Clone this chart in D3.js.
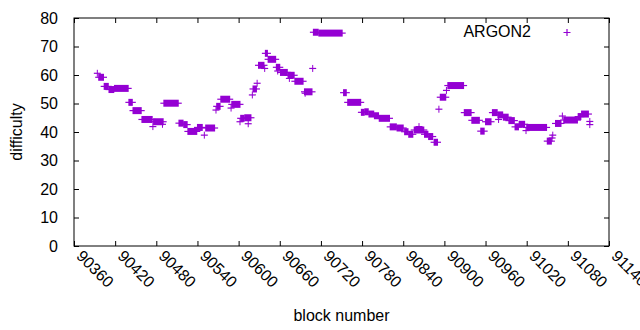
<!DOCTYPE html>
<html>
<head>
<meta charset="utf-8">
<script src="https://cdn.jsdelivr.net/npm/d3@7"></script>
<style>
  body { margin: 0; background: #fff; }
  text { font-family: "Liberation Sans", Arial, sans-serif; fill: #000; }
</style>
</head>
<body>
<svg id="graph"></svg>
<script>
// runs of blocks that share the same difficulty (start block, end block, value)
const blockStart = [
  90394, 90396, 90404, 90411, 90419, 90440, 90446, 90459, 90475, 90476,
  90489, 90491, 90513, 90520, 90526, 90540, 90550, 90552, 90567, 90568,
  90574, 90589, 90590, 90602, 90603, 90609, 90614, 90620, 90621, 90627,
  90629, 90638, 90639, 90643, 90655, 90657, 90661, 90672, 90674, 90682,
  90696, 90697, 90708, 90709, 90717, 90753, 90759, 90779, 90784, 90790,
  90798, 90805, 90821, 90831, 90842, 90848, 90856, 90863, 90871, 90877,
  90885, 90892, 90894, 90903, 90905, 90929, 90940, 90953, 90960, 90970,
  90978, 90979, 90986, 90994, 91003, 91009, 91019, 91020, 91050, 91057,
  91058, 91062, 91072, 91074, 91095, 91100, 91112, 91112
];
const blockEnd = [
  90394, 90403, 90410, 90418, 90439, 90445, 90458, 90474, 90475, 90490,
  90489, 90512, 90519, 90525, 90539, 90547, 90550, 90565, 90567, 90573,
  90587, 90589, 90602, 90602, 90608, 90618, 90614, 90620, 90626, 90627,
  90637, 90638, 90642, 90654, 90660, 90657, 90671, 90681, 90674, 90694,
  90707, 90697, 90708, 90716, 90751, 90757, 90778, 90783, 90789, 90797,
  90804, 90820, 90830, 90840, 90847, 90854, 90870, 90863, 90876, 90883,
  90890, 90892, 90902, 90903, 90928, 90939, 90951, 90958, 90968, 90977,
  90985, 90979, 90993, 91002, 91008, 91017, 91019, 91049, 91056, 91057,
  91058, 91070, 91072, 91094, 91099, 91110, 91112, 91112
];
const difficulty = [
  60.6, 59.2, 56.0, 54.9, 55.3, 50.4, 47.5, 44.4, 41.9, 43.6,
  42.7, 50.1, 43.1, 42.6, 40.2, 41.6, 38.9, 41.4, 47.7, 49.0,
  51.5, 48.4, 49.7, 43.6, 44.8, 45.0, 42.9, 53.0, 55.1, 57.1,
  63.4, 62.3, 67.6, 65.5, 62.7, 61.4, 60.9, 59.9, 58.8, 57.8,
  54.1, 53.6, 62.3, 75.0, 74.7, 53.8, 50.4, 46.9, 47.1, 46.3,
  45.7, 44.8, 41.8, 41.4, 40.1, 39.2, 40.7, 41.9, 39.2, 38.4,
  36.4, 48.0, 52.2, 54.6, 56.3, 46.8, 44.1, 40.3, 43.6, 46.8,
  46.0, 44.4, 45.2, 44.0, 41.8, 42.7, 40.5, 41.6, 36.8, 37.9,
  38.9, 43.0, 45.6, 44.2, 45.4, 46.3, 43.7, 42.6
];

const xTicks = d3.range(90360, 91141, 60);
const yTicks = d3.range(0, 81, 10);
const seriesName = 'ARGON2';
const color = '#9400d3';

const W = 640;
const H = 330;
const margin = { top: 18, right: 31, bottom: 84, left: 74 };
const width = W - margin.left - margin.right;
const height = H - margin.top - margin.bottom;
const arm = 3.5;
const fontSize = '16px';

const svg = d3.select('#graph')
    .attr('width', W)
    .attr('height', H);

const g = svg.append('g')
    .attr('transform', `translate(${margin.left},${margin.top})`);

const x = d3.scaleLinear().domain([90360, 91140]).range([0, width]);
const y = d3.scaleLinear().domain([0, 80]).range([height, 0]);

// axes (ticks point inward, mirrored on top / right)
const xAxis = g.append('g')
    .attr('transform', `translate(0,${height})`)
    .call(d3.axisBottom(x).tickValues(xTicks).tickSize(-5).tickSizeOuter(0)
      .tickFormat(d3.format('d')));
xAxis.selectAll('text')
    .attr('text-anchor', 'start')
    .attr('x', 0)
    .attr('y', 0)
    .attr('dy', 0)
    .attr('transform', 'translate(1,11) rotate(45)');

g.append('g')
    .call(d3.axisTop(x).tickValues(xTicks).tickSize(-5).tickSizeOuter(0).tickFormat(''));

g.append('g')
    .call(d3.axisLeft(y).tickValues(yTicks).tickSize(-5).tickSizeOuter(0).tickPadding(16));

g.append('g')
    .attr('transform', `translate(${width},0)`)
    .call(d3.axisRight(y).tickValues(yTicks).tickSize(-5).tickSizeOuter(0).tickFormat(''));

g.selectAll('.domain').remove();
g.selectAll('.tick line').attr('stroke', '#000');
g.selectAll('.tick text').style('font-size', fontSize).style('font-family', '"Liberation Sans", Arial, sans-serif');

g.append('rect')
    .attr('width', width)
    .attr('height', height)
    .attr('fill', 'none')
    .attr('stroke', '#000');

// '+' markers: a run of equal values draws as the union of its crosses
const runs = blockStart.map((s, i) => ({ s, e: blockEnd[i], v: difficulty[i] }));
const marks = g.append('g').attr('fill', color).attr('stroke', color);

marks.selectAll('.body')
    .data(runs)
  .enter().append('rect')
    .attr('x', d => x(d.s) - 0.5)
    .attr('y', d => y(d.v) - arm)
    .attr('width', d => x(d.e) - x(d.s) + 1)
    .attr('height', arm * 2)
    .attr('stroke', 'none');

marks.selectAll('.arm')
    .data(runs)
  .enter().append('line')
    .attr('x1', d => x(d.s) - arm)
    .attr('x2', d => x(d.e) + arm)
    .attr('y1', d => y(d.v))
    .attr('y2', d => y(d.v))
    .attr('stroke-width', 1.2);

// axis titles
svg.append('text')
    .attr('transform', `translate(22,${margin.top + height / 2}) rotate(-90)`)
    .attr('text-anchor', 'middle')
    .style('font-size', fontSize)
    .text('difficulty');

svg.append('text')
    .attr('x', margin.left + width / 2)
    .attr('y', 321)
    .attr('text-anchor', 'middle')
    .style('font-size', fontSize)
    .text('block number');

// legend
svg.append('text')
    .attr('x', 531)
    .attr('y', 37)
    .attr('text-anchor', 'end')
    .style('font-size', fontSize)
    .text(seriesName);

svg.append('path')
    .attr('d', `M${567 - arm},32.5H${567 + arm}M567,${32.5 - arm}V${32.5 + arm}`)
    .attr('stroke', color)
    .attr('stroke-width', 1.2);
</script>
</body>
</html>
